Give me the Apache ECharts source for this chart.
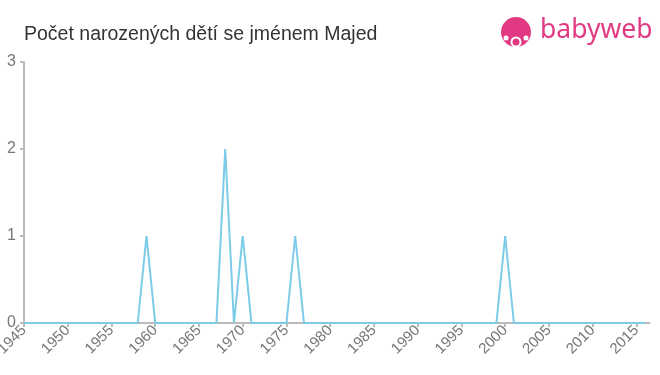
<!DOCTYPE html>
<html>
<head>
<meta charset="utf-8">
<script src="https://cdn.jsdelivr.net/npm/echarts@6/dist/echarts.min.js"></script>
<style>html,body{margin:0;padding:0;background:#fff}#c{width:660px;height:375px}</style>
</head>
<body>
<div id="c"></div>
<script>
const titleText = "Počet narozených dětí se jménem Majed";
const years = [];
for (let y = 1945; y <= 2016; y++) years.push(y);
const nonZeroYears = [1959, 1968, 1970, 1976, 2000];
const nonZeroCounts = [1, 2, 1, 1, 1];
const counts = years.map(y => { const i = nonZeroYears.indexOf(y); return i >= 0 ? nonZeroCounts[i] : 0; });
const yTicks = [0, 1, 2, 3];

const chart = echarts.init(document.getElementById('c'), null, {renderer: 'canvas'});
chart.setOption({
  animation: false,
  title: {
    text: titleText, left: 19, top: 20,
    textStyle: {fontFamily: 'Liberation Sans, Arial, sans-serif', fontSize: 19.5, fontWeight: 'normal', color: '#333'}
  },
  grid: {left: 24, right: 10.5, top: 62, bottom: 52, containLabel: false, outerBoundsMode: 'none'},
  xAxis: {
    type: 'value', min: 1945, max: 2016.5, interval: 5,
    axisLine: {lineStyle: {color: '#bbb', width: 2}},
    axisTick: {show: true, length: 4, lineStyle: {color: '#bbb', width: 2}},
    splitLine: {show: false},
    axisLabel: {rotate: 45, fontSize: 15, color: '#777', fontFamily: 'Liberation Sans, Arial, sans-serif', margin: 5,
      showMaxLabel: false, formatter: v => String(v)}
  },
  yAxis: {
    type: 'value', min: 0, max: 3, interval: 1,
    axisLine: {show: true, lineStyle: {color: '#bbb', width: 2}},
    axisTick: {show: true, length: 4, lineStyle: {color: '#bbb', width: 2}},
    splitLine: {show: false},
    axisLabel: {fontSize: 16, color: '#777', fontFamily: 'Liberation Sans, Arial, sans-serif', margin: 8,
      formatter: v => String(v)}
  },
  series: [{
    type: 'line', data: years.map((y, i) => [y, counts[i]]),
    showSymbol: false, symbol: 'none',
    lineStyle: {color: '#7ccbe8', width: 2},
    z: 3
  }],
  graphic: [
    {type: 'circle', shape: {cx: 516, cy: 32, r: 15}, style: {fill: '#e13a82'}},
    {type: 'circle', shape: {cx: 516, cy: 42, r: 5.5}, style: {fill: '#fff'}},
    {type: 'circle', shape: {cx: 516, cy: 42, r: 3.5}, style: {fill: '#e13a82'}},
    {type: 'circle', shape: {cx: 506, cy: 38, r: 2.5}, style: {fill: '#fff'}},
    {type: 'circle', shape: {cx: 526, cy: 38, r: 2.5}, style: {fill: '#fff'}},
    {type: 'text', left: 540, top: 17, style: {text: 'babyweb', fontSize: 26.5, fill: '#e13a82', fontFamily: 'Noto Sans, Arial, sans-serif'}}
  ]
});
</script>
</body>
</html>
